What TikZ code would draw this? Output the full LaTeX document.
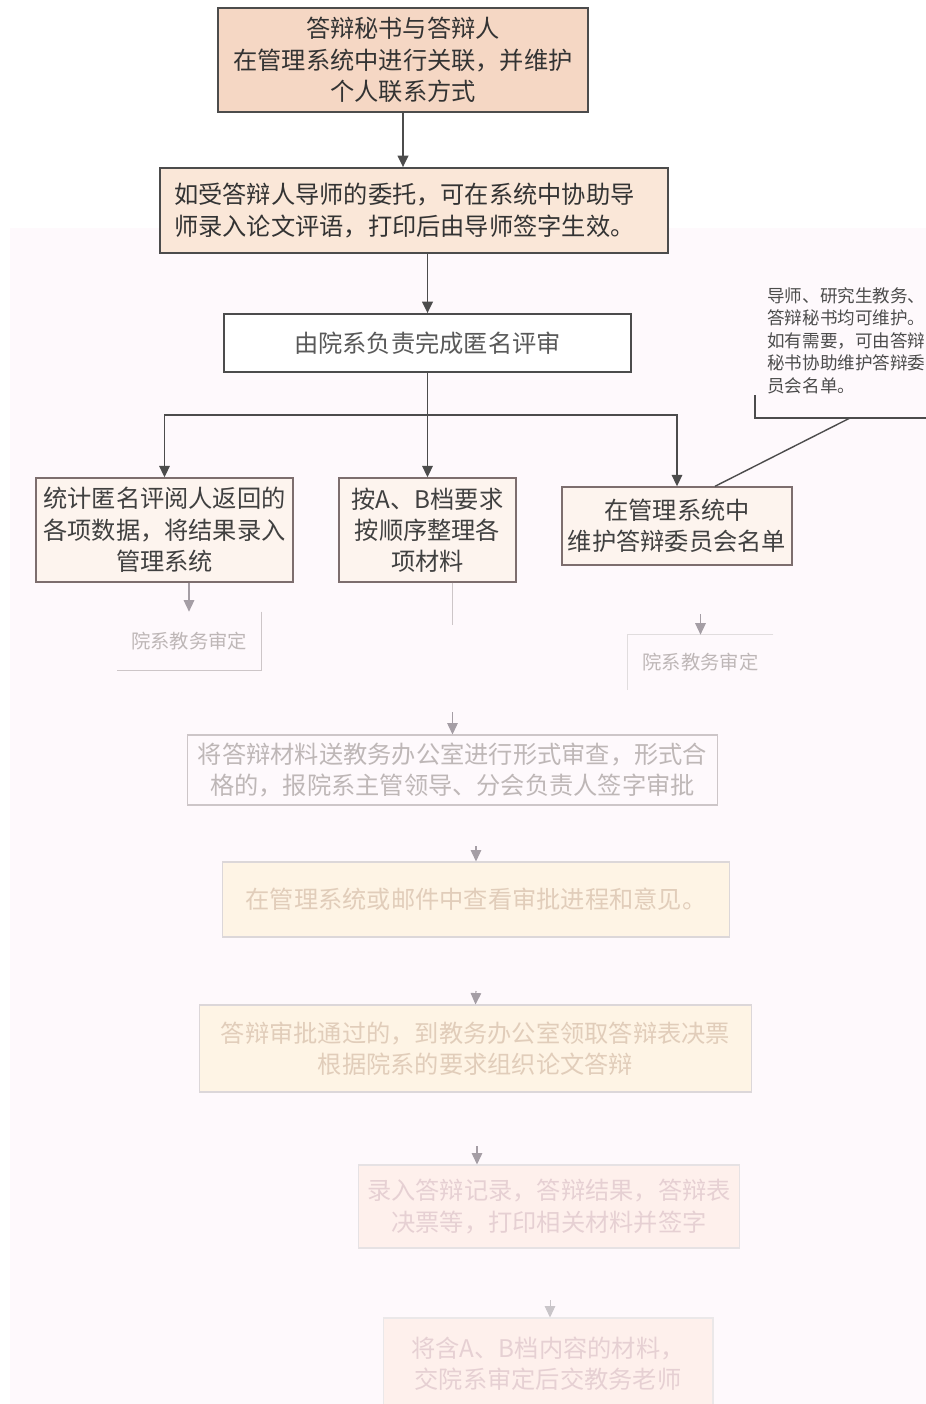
\documentclass[tikz,border=0pt]{standalone}
\usepackage{fontspec}
\setmainfont{Noto Sans CJK SC}
\usetikzlibrary{arrows.meta}
\tikzset{>={Triangle[length=6.5pt,width=6pt]}}
\colorlet{background}{white}
\colorlet{penColor}{black!70}
\definecolor{boxPeach}{RGB}{245,215,196}
\definecolor{boxPeachLight}{RGB}{250,231,216}
\definecolor{boxPale}{RGB}{253,244,238}
\definecolor{boxCream}{RGB}{254,244,229}
\definecolor{boxPink}{RGB}{254,240,236}
\definecolor{bgPink}{RGB}{254,249,252}
\definecolor{boxEdge}{RGB}{125,110,110}
\definecolor{fadeLine}{RGB}{205,198,200}
\definecolor{fadeArrow}{RGB}{165,158,165}
\definecolor{fadeText}{RGB}{190,183,183}
\definecolor{fadeTan}{RGB}{225,205,186}
\definecolor{fadeRose}{RGB}{230,208,211}

\begin{document}
\begin{tikzpicture}[x=0.02cm,y=-0.02cm,
	every node/.style={inner sep=0pt,align=center,font=\fontsize{13.8}{17.8}\selectfont},
	stepbox/.style={draw=penColor,line width=1pt,text=black!80},
	subbox/.style={draw=boxEdge,line width=0.8pt,fill=boxPale,text=black!75,minimum height=2.08cm},
	fadebox/.style={draw=fadeLine,line width=0.6pt}]
		\clip (0,0) rectangle (926,1404);
		\fill[bgPink] (10,228) rectangle (926,1404);% faint tint of the lower part
		
		\node[stepbox,fill=boxPeach,minimum width=7.4cm,minimum height=2.08cm] (link) at (403,60) {答辩秘书与答辩人\\在管理系统中进行关联，并维护\\个人联系方式};
		\node[stepbox,fill=boxPeachLight,minimum width=10.16cm,minimum height=1.7cm,text width=9.6cm,align=left] (remark) at (414,210.5) {如受答辩人导师的委托，可在系统中协助导\\师录入论文评语，打印后由导师签字生效。};
		\node[stepbox,fill=white,text=black!65,minimum width=8.14cm,minimum height=1.16cm] (review) at (427.5,343) {由院系负责完成匿名评审};
		
		\draw[->,penColor,line width=1pt] (link.south) -- (link.south |- remark.north);
		\draw[->,penColor,line width=1pt] (review.north |- remark.south) -- (review.north);
		
		\node[subbox,minimum width=5.14cm] (stats) at (164.5,530) {统计匿名评阅人返回的\\各项数据，将结果录入\\管理系统};
		\node[subbox,minimum width=3.54cm] (sort) at (427.5,530) {按A、B档要求\\按顺序整理各\\项材料};
		\node[subbox,minimum width=4.6cm,minimum height=1.56cm] (committee) at (677,526) {在管理系统中\\维护答辩委员会名单};
		
		\coordinate (split) at (427.5,415);
		\draw[penColor,line width=0.8pt] (review.south) -- (split);
		\draw[->,penColor,line width=0.8pt] (split) -| (stats.north);
		\draw[->,penColor,line width=0.8pt] (split) -- (sort.north);
		\draw[->,penColor,line width=0.8pt] (split) -| (committee.north);
		
		% note on who keeps the committee list
		\node[anchor=north west,align=left,text=black!70,font=\fontsize{10}{12.8}\selectfont] (note) at (767,287) {导师、研究生教务、\\答辩秘书均可维护。\\如有需要，可由答辩\\秘书协助维护答辩委\\员会名单。};
		\coordinate (noteTop) at (755,395);
		\coordinate (noteCorner) at (755,418);
		\coordinate (noteEnd) at (926,418);
		\coordinate (noteFoot) at (850,418);
		\draw[penColor,line width=0.8pt] (noteTop) -- (noteCorner) -- (noteEnd);
		\draw[penColor,line width=0.8pt] (noteFoot) -- ([xshift=0.76cm]committee.north);
		
		% faded lower half
		\node[text=fadeText,font=\fontsize{11}{14}\selectfont,minimum width=2.88cm,minimum height=1.16cm] (checkA) at (189,641) {院系教务审定};
		\draw[fadeLine,line width=0.8pt] (checkA.north east) -- (checkA.south east) -- (checkA.south west);
		\node[text=fadeText,font=\fontsize{11}{14}\selectfont,minimum width=2.9cm,minimum height=1.1cm] (checkB) at (700.5,662.5) {院系教务审定};
		\draw[fadeLine!60,line width=0.6pt] (checkB.north east) -- (checkB.north west) -- (checkB.south west);
		\draw[->,fadeArrow,line width=0.6pt] (stats.south -| checkA.north) -- (checkA.north);
		\coordinate (checkBin) at (700.5,614);
		\draw[->,fadeArrow,line width=0.6pt] (checkBin) -- (checkB.north);
		
		\node[fadebox,text=fadeText,minimum width=10.62cm,minimum height=1.4cm] (office) at (452.5,770) {将答辩材料送教务办公室进行形式审查，形式合\\格的，报院系主管领导、分会负责人签字审批};
		\coordinate (sortEnd) at (452.5,625);
		\coordinate (officeIn) at (452.5,712);
		\draw[fadeLine,line width=0.8pt] (sort.south -| sortEnd) -- (sortEnd);
		\draw[->,fadeArrow,line width=0.6pt] (officeIn) -- (office.north);
		
		\node[fadebox,draw=fadeLine!70,fill=boxCream,text=fadeTan,minimum width=10.16cm,minimum height=1.5cm] (progress) at (476,899.5) {在管理系统或邮件中查看审批进程和意见。};
		\coordinate (progressIn) at (476,846);
		\draw[->,fadeArrow,line width=0.6pt] (progressIn) -- (progress.north);
		
		\node[fadebox,draw=fadeLine!70,fill=boxCream,text=fadeTan,minimum width=11.06cm,minimum height=1.74cm] (defence) at (475.5,1048.5) {答辩审批通过的，到教务办公室领取答辩表决票\\根据院系的要求组织论文答辩};
		\coordinate (defenceIn) at (476,991);
		\draw[->,fadeArrow,line width=0.6pt] (defenceIn) -- (defence.north);
		
		\node[fadebox,draw=fadeLine!50,fill=boxPink,text=fadeRose,minimum width=7.64cm,minimum height=1.66cm] (record) at (549,1206.5) {录入答辩记录，答辩结果，答辩表\\决票等，打印相关材料并签字};
		\coordinate (recordIn) at (477,1146);
		\draw[->,fadeArrow,line width=0.6pt] (recordIn) -- (recordIn |- record.north);
		
		\node[fadebox,draw=fadeLine!40,fill=boxPink,text=fadeRose,minimum width=6.6cm,minimum height=1.84cm] (archive) at (548,1364) {将含A、B档内容的材料，\\交院系审定后交教务老师};
		\coordinate (archiveIn) at (550,1300);
		\draw[->,fadeArrow!60,line width=0.5pt] (archiveIn) -- (archiveIn |- archive.north);
		\end{tikzpicture}
\end{document}
